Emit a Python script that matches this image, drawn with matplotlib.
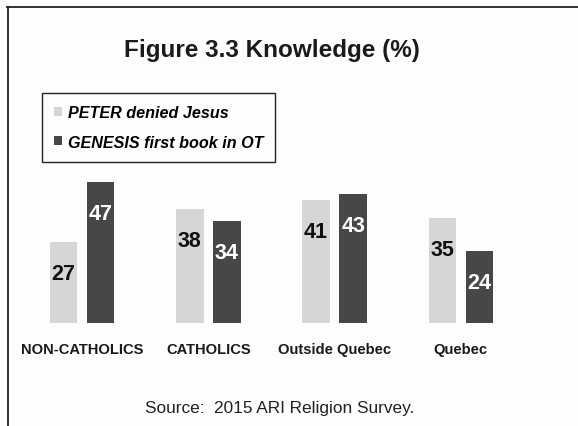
import matplotlib
matplotlib.use('Agg')
import matplotlib.pyplot as plt
from matplotlib.lines import Line2D
import numpy as np

# Knowledge by group (%)
groups = ['NON-CATHOLICS', 'CATHOLICS', 'Outside Quebec', 'Quebec']
peter = [27, 38, 41, 35]
genesis = [47, 34, 43, 24]
series_names = ['PETER denied Jesus', 'GENESIS first book in OT']

light = '#d6d6d6'
dark = '#474747'
narrow = ['Liberation Sans Narrow', 'Liberation Sans', 'DejaVu Sans']
plt.rcParams['font.family'] = narrow

W, H = 578, 427
fig = plt.figure(figsize=(W / 100, H / 100), dpi=100)
fig.patch.set_facecolor('#fdfdfd')

# axes placed in pixel units: groups 126.3 px apart, 3 px per percent
spacing = 126.3
left_px, right_px = 20, 560
x0_px = 82
base_px = 324
ax = fig.add_axes([left_px / W, (H - base_px) / H,
                   (right_px - left_px) / W, 150 / H])
ax.set_xlim((left_px - x0_px) / spacing, (right_px - x0_px) / spacing)
ax.set_ylim(0, 50)
ax.patch.set_alpha(0)
for s in ax.spines.values():
    s.set_visible(False)
ax.set_yticks([])

x = np.arange(len(groups))
off = 18.5 / spacing
w = 27.5 / spacing
b1 = ax.bar(x - off, peter, w, color=light, label=series_names[0])
b2 = ax.bar(x + off, genesis, w, color=dark, label=series_names[1])

for xi, v in zip(x - off, peter):
    ax.annotate(str(v), (xi, v), xytext=(0, -32), textcoords='offset pixels',
                ha='center', va='center', fontsize=15.5, fontweight='bold',
                color='#111111')
for xi, v in zip(x + off, genesis):
    ax.annotate(str(v), (xi, v), xytext=(0, -32), textcoords='offset pixels',
                ha='center', va='center', fontsize=15.5, fontweight='bold',
                color='white')

ax.set_xticks(x)
ax.set_xticklabels(groups, fontsize=10.6, fontweight='bold', color='#1a1a1a')
ax.tick_params(axis='x', length=0, pad=14)

fig.text(272 / W, 1 - 51 / H, 'Figure 3.3 Knowledge (%)', ha='center',
         va='center', fontsize=17.5, fontweight='bold', color='#1a1a1a')
fig.text(280 / W, 1 - 409 / H, 'Source:  2015 ARI Religion Survey.',
         ha='center', va='center', fontsize=12.4, color='#222222')

leg = fig.legend(handles=[b1, b2], loc='upper left',
                 bbox_to_anchor=(42 / W, 1 - 94 / H),
                 prop={'family': narrow, 'style': 'italic',
                       'weight': 'bold', 'size': 11.6},
                 handlelength=0.5, handleheight=0.5, handletextpad=0.35,
                 labelspacing=0.9, borderpad=0.75, borderaxespad=0,
                 fancybox=False, frameon=True, framealpha=1)
leg.get_frame().set_edgecolor('#222222')
leg.get_frame().set_linewidth(1.0)
leg.get_frame().set_facecolor('#fdfdfd')

# outer frame: top and left edges
fig.add_artist(Line2D([7 / W, 1], [1 - 8 / H, 1 - 8 / H],
                      color='#222222', lw=1.3))
fig.add_artist(Line2D([8 / W, 8 / W], [0, 1 - 8 / H],
                      color='#222222', lw=1.3))

fig.savefig('out.png', dpi=100, facecolor=fig.get_facecolor())
